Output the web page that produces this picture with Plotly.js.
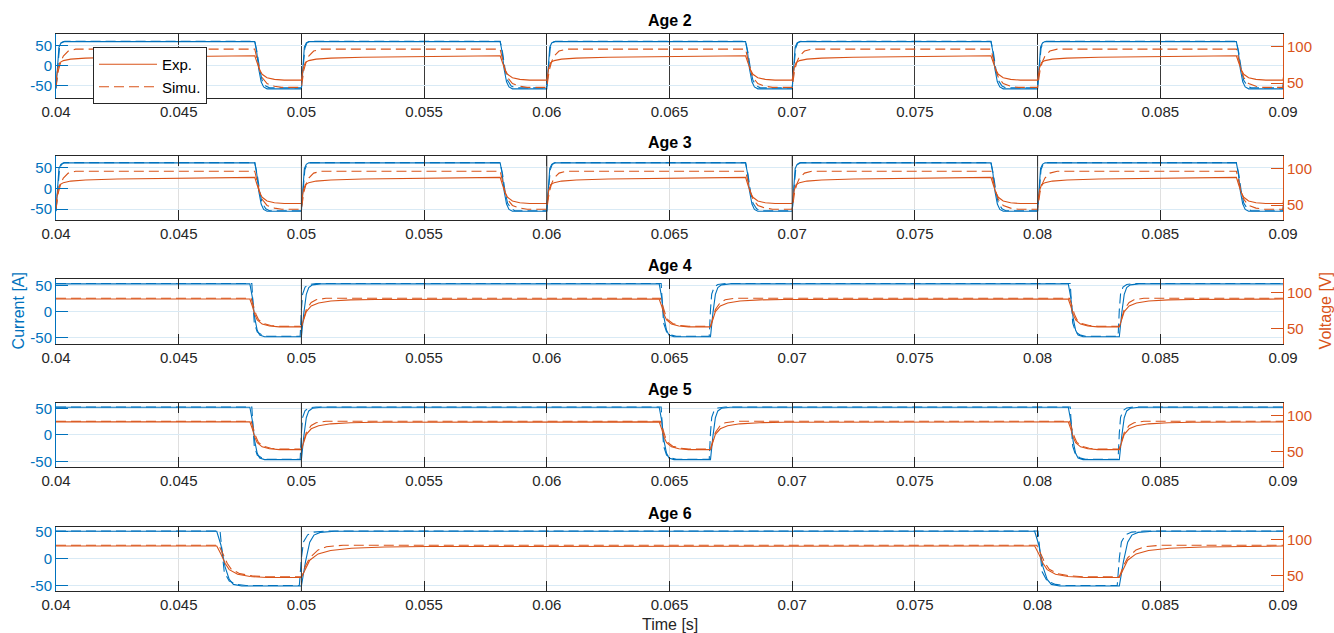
<!DOCTYPE html>
<html><head><meta charset="utf-8">
<script src="https://cdn.plot.ly/plotly-3.0.1.min.js"></script>
<style>html,body{margin:0;padding:0;background:#fff}#chart{width:1334px;height:633px}</style>
</head><body><div id="chart"></div>
<script>
// ---------------- data ----------------
const ageTitles = ['Age 2', 'Age 3', 'Age 4', 'Age 5', 'Age 6'];
const timeTicks = [0.04, 0.045, 0.05, 0.055, 0.06, 0.065, 0.07, 0.075, 0.08, 0.085, 0.09];
const timeTickText = ['0.04', '0.045', '0.05', '0.055', '0.06', '0.065', '0.07', '0.075', '0.08', '0.085', '0.09'];
const currentTicks = [-50, 0, 50];
const currentTickText = ['-50', '0', '50'];
const voltageTicks = [50, 100];
const voltageTickText = ['50', '100'];

// switching instants (s)
const age2Rise = [0.04, 0.05, 0.06, 0.07, 0.08, 0.09];
const age2Fall = [0.0481, 0.0581, 0.0681, 0.0781, 0.0881];
const age3Rise = [0.04, 0.05, 0.06, 0.07, 0.08, 0.09];
const age3Fall = [0.0481, 0.0581, 0.0681, 0.0781, 0.0881];
const age4Rise = [0.05, 0.06667, 0.08333];
const age4Fall = [0.0479, 0.06458, 0.08125];
const age5Rise = [0.05, 0.06667, 0.08333];
const age5Fall = [0.0479, 0.06458, 0.08125];
const age6Rise = [0.05, 0.08333];
const age6Fall = [0.04655, 0.07988];

// [high, low] levels: current (A) and voltage (V)
const age2CurrentExp = [61, -57.5], age2CurrentSim = [62, -55], age2VoltageExp = [87.5, 54], age2VoltageSim = [96.5, 44];
const age3CurrentExp = [62.4, -55.4], age3CurrentSim = [63, -54], age3VoltageExp = [88, 52.3], age3VoltageSim = [96.5, 44.5];
const age4CurrentExp = [53.3, -48], age4CurrentSim = [54, -47], age4VoltageExp = [90.7, 52.2], age4VoltageSim = [91.7, 53];
const age5CurrentExp = [51.9, -46.8], age5CurrentSim = [52.5, -46], age5VoltageExp = [91.2, 52.4], age5VoltageSim = [92, 53.3];
const age6CurrentExp = [50.5, -51], age6CurrentSim = [51, -50], age6VoltageExp = [90.8, 47.8], age6VoltageSim = [92, 48.7];

// transition shapes: [time after switching (s)], [fraction of the step]
// 100 Hz cases (Age 2, Age 3)
const fastCurExpFall = [[0, 0.00008, 0.00016, 0.00026, 0.00036, 0.0005], [0, 0.22, 0.58, 0.85, 0.96, 1]];
const fastCurExpRise = [[0, 0.00006, 0.00012, 0.0002, 0.0003], [0, 0.55, 0.88, 0.97, 1]];
const fastCurSimFall = [[0, 0.0001, 0.0002, 0.0003, 0.00045, 0.0006], [0, 0.25, 0.6, 0.84, 0.96, 1]];
const fastCurSimRise = [[0, 0.00007, 0.00014, 0.00022, 0.00035], [0, 0.5, 0.85, 0.96, 1]];
const fastVolExpFall = [[0, 0.0001, 0.0002, 0.0003, 0.0005, 0.0008, 0.0012], [0, 0.3, 0.58, 0.76, 0.9, 0.97, 1]];
const fastVolExpRise = [[0, 0.00008, 0.00016, 0.0003, 0.0006, 0.0012, 0.0025, 0.005], [0, 0.5, 0.72, 0.8, 0.86, 0.9, 0.94, 0.96]];
const fastVolSimFall = [[0, 0.0001, 0.0002, 0.0003, 0.0005, 0.0008, 0.0011], [0, 0.28, 0.55, 0.74, 0.9, 0.97, 1]];
const fastVolSimRise = [[0, 0.0001, 0.0002, 0.0003, 0.0005, 0.0008], [0, 0.45, 0.68, 0.82, 0.95, 1]];
// 60 Hz / 30 Hz cases (Age 4, Age 5, Age 6)
const slowCurExpFall = [[0, 0.0001, 0.0002, 0.0003, 0.0004, 0.0006], [0, 0.25, 0.65, 0.88, 0.97, 1]];
const slowCurSimFall = [[0.00008, 0.00013, 0.00018, 0.0003, 0.0005, 0.0007], [0, 0.4, 0.75, 0.92, 0.98, 1]];
const slowCurExpRise = [[0, 0.0001, 0.0002, 0.0003, 0.00045, 0.0008], [0, 0.45, 0.8, 0.93, 0.98, 1]];
const slowCurSimRise = [[-0.00005, 0, 0.00005, 0.00015, 0.0003, 0.0006], [0, 0.5, 0.8, 0.93, 0.98, 1]];
const slowVolExpFall = [[0, 0.0001, 0.0002, 0.0003, 0.0005, 0.0008, 0.0012], [0, 0.25, 0.55, 0.75, 0.9, 0.97, 1]];
const slowVolSimFall = [[0.00005, 0.00015, 0.00025, 0.00035, 0.00055, 0.00085, 0.0012], [0, 0.28, 0.57, 0.76, 0.9, 0.97, 1]];
const slowVolExpRise = [[0, 0.0001, 0.0002, 0.0004, 0.0007, 0.0012, 0.002, 0.003], [0, 0.3, 0.55, 0.75, 0.86, 0.93, 0.97, 0.985]];
const slowVolSimRise = [[0, 0.0001, 0.0002, 0.0004, 0.0006, 0.001], [0, 0.35, 0.6, 0.85, 0.95, 1]];
const transitionStretch = [1, 1, 1, 1, 1.7];

// axis ranges
const currentRanges = [[-81, 80], [-77, 79], [-61, 62], [-60.5, 60.5], [-60, 59]];
const voltageRanges = [[29.2, 117.3], [29.5, 117.3], [29.2, 118], [28.3, 118], [29.4, 117.3]];
// instants with a dark full-height line
const age3DarkLines = [0.05, 0.06, 0.07, 0.08];
const age4DarkLines = [0.05];
const age5DarkLines = [0.05];
const age6DarkLines = [0.05];

// ---------------- assembling ----------------
const blue = '#0072BD', orange = '#D95319', dark = '#262626';
const FONT = 'Arial, "Liberation Sans", Helvetica, sans-serif';
const H = 633;
const boxTop = [34, 156, 279.3, 402.7, 526.7];
const boxH = 64.2;
function dom(i) { return [1 - (boxTop[i] + boxH) / H, 1 - boxTop[i] / H]; }

const ages = [
  {rise: age2Rise, fall: age2Fall, ce: age2CurrentExp, cs: age2CurrentSim, ve: age2VoltageExp, vs: age2VoltageSim, fast: true, dark: []},
  {rise: age3Rise, fall: age3Fall, ce: age3CurrentExp, cs: age3CurrentSim, ve: age3VoltageExp, vs: age3VoltageSim, fast: true, dark: age3DarkLines},
  {rise: age4Rise, fall: age4Fall, ce: age4CurrentExp, cs: age4CurrentSim, ve: age4VoltageExp, vs: age4VoltageSim, fast: false, dark: age4DarkLines},
  {rise: age5Rise, fall: age5Fall, ce: age5CurrentExp, cs: age5CurrentSim, ve: age5VoltageExp, vs: age5VoltageSim, fast: false, dark: age5DarkLines},
  {rise: age6Rise, fall: age6Fall, ce: age6CurrentExp, cs: age6CurrentSim, ve: age6VoltageExp, vs: age6VoltageSim, fast: false, dark: age6DarkLines}
];

function wave(rises, falls, lv, riseTpl, fallTpl, stretch) {
  const hi = lv[0], lo = lv[1];
  const ev = rises.map(t => ({t, up: true})).concat(falls.map(t => ({t, up: false}))).sort((a, b) => a.t - b.t);
  let level = ev[0].up ? lo : hi;
  const xs = [], ys = [];
  if (ev[0].t > 0.04) { xs.push(0.04); ys.push(level); }
  ev.forEach(e => {
    const from = e.up ? lo : hi, to = e.up ? hi : lo;
    const tpl = e.up ? riseTpl : fallTpl;
    tpl[0].forEach((dt, k) => { xs.push(e.t + dt * stretch); ys.push(from + tpl[1][k] * (to - from)); });
    level = to;
  });
  if (xs[xs.length - 1] < 0.09) { xs.push(0.09); ys.push(level); }
  return {xs, ys};
}

const traces = [], layout = {
  width: 1334, height: 633, paper_bgcolor: '#fff', plot_bgcolor: '#fff',
  margin: {l: 56, r: 51, t: 0, b: 0, pad: 0},
  font: {family: FONT, size: 15, color: dark},
  showlegend: true,
  legend: {x: (93 - 56) / 1227, y: 1 - 47 / H, xanchor: 'left', yanchor: 'top', bgcolor: '#fff',
           bordercolor: dark, borderwidth: 1, itemwidth: 58, font: {family: FONT, size: 15, color: '#000'}, tracegroupgap: 0},
  annotations: [], shapes: []
};

ages.forEach((a, i) => {
  const xn = i + 1, yl = 2 * i + 1, yr = 2 * i + 2;
  const xid = 'x' + xn, ylid = 'y' + yl, yrid = 'y' + yr;
  const st = transitionStretch[i];
  const T = a.fast
    ? {ce: [fastCurExpRise, fastCurExpFall], cs: [fastCurSimRise, fastCurSimFall], ve: [fastVolExpRise, fastVolExpFall], vs: [fastVolSimRise, fastVolSimFall]}
    : {ce: [slowCurExpRise, slowCurExpFall], cs: [slowCurSimRise, slowCurSimFall], ve: [slowVolExpRise, slowVolExpFall], vs: [slowVolSimRise, slowVolSimFall]};
  const ce = wave(a.rise, a.fall, a.ce, T.ce[0], T.ce[1], st);
  const cs = wave(a.rise, a.fall, a.cs, T.cs[0], T.cs[1], st);
  const ve = wave(a.rise, a.fall, a.ve, T.ve[0], T.ve[1], st);
  const vs = wave(a.rise, a.fall, a.vs, T.vs[0], T.vs[1], st);

  traces.push({x: ce.xs, y: ce.ys, xaxis: xid, yaxis: ylid, mode: 'lines', line: {color: blue, width: 1.1}, showlegend: false, hoverinfo: 'skip'});
  traces.push({x: cs.xs, y: cs.ys, xaxis: xid, yaxis: ylid, mode: 'lines', line: {color: blue, width: 1.1, dash: '10px,5px'}, showlegend: false, hoverinfo: 'skip'});
  traces.push({x: ve.xs, y: ve.ys, xaxis: xid, yaxis: yrid, mode: 'lines', name: 'Exp.', line: {color: orange, width: 1.1}, showlegend: i === 0, hoverinfo: 'skip'});
  traces.push({x: vs.xs, y: vs.ys, xaxis: xid, yaxis: yrid, mode: 'lines', name: 'Simu.', line: {color: orange, width: 1.1, dash: '10px,5px'}, showlegend: i === 0, hoverinfo: 'skip'});

  const d = dom(i);
  layout['xaxis' + (xn === 1 ? '' : xn)] = {
    domain: [0, 1], anchor: ylid, range: [0.04, 0.09], tickvals: timeTicks, ticktext: timeTickText,
    ticks: 'inside', ticklen: 10, tickwidth: 1, tickcolor: dark, showline: true, mirror: 'ticks', linecolor: dark, linewidth: 1,
    showgrid: true, gridcolor: i === 0 ? '#3a3a3a' : '#dfdfdf', gridwidth: 1, zeroline: false,
    tickfont: {family: FONT, size: 15, color: dark}, fixedrange: true
  };
  layout['yaxis' + (yl === 1 ? '' : yl)] = {
    domain: d, anchor: xid, range: currentRanges[i], tickvals: currentTicks, ticktext: currentTickText,
    ticks: 'inside', ticklen: 12, tickwidth: 1, tickcolor: blue, showline: true, linecolor: blue, linewidth: 1,
    showgrid: true, gridcolor: '#d9eaf5', gridwidth: 1, zeroline: false,
    tickfont: {family: FONT, size: 15, color: blue}, fixedrange: true
  };
  layout['yaxis' + yr] = {
    domain: d, anchor: xid, overlaying: ylid, side: 'right', range: voltageRanges[i], tickvals: voltageTicks, ticktext: voltageTickText,
    ticks: 'inside', ticklen: 12, tickwidth: 1, tickcolor: orange, showline: true, linecolor: orange, linewidth: 1,
    showgrid: false, zeroline: false, tickfont: {family: FONT, size: 15, color: orange}, fixedrange: true
  };
  a.dark.forEach(t => layout.shapes.push({type: 'line', xref: xid, yref: ylid + ' domain', x0: t, x1: t, y0: 0, y1: 1,
    line: {color: '#3a3a3a', width: 1}, layer: 'above'}));
  layout.annotations.push({text: '<b>' + ageTitles[i] + '</b>', xref: 'paper', yref: 'paper', x: 0.5, y: d[1],
    xanchor: 'center', yanchor: 'bottom', yshift: 3, showarrow: false, font: {family: FONT, size: 16, color: '#000'}});
});

const mid4 = (dom(2)[0] + dom(2)[1]) / 2;
layout.annotations.push({text: 'Current [A]', xref: 'paper', yref: 'paper', x: 0, y: mid4, xshift: -38, textangle: -90,
  xanchor: 'center', yanchor: 'middle', showarrow: false, font: {family: FONT, size: 16, color: blue}});
layout.annotations.push({text: 'Voltage [V]', xref: 'paper', yref: 'paper', x: 1, y: mid4, xshift: 42, textangle: -90,
  xanchor: 'center', yanchor: 'middle', showarrow: false, font: {family: FONT, size: 16, color: orange}});
layout.annotations.push({text: 'Time [s]', xref: 'paper', yref: 'paper', x: 0.5, y: dom(4)[0], yshift: -23,
  xanchor: 'center', yanchor: 'top', showarrow: false, font: {family: FONT, size: 16, color: dark}});

Plotly.newPlot('chart', traces, layout, {displayModeBar: false, staticPlot: true});
</script></body></html>
